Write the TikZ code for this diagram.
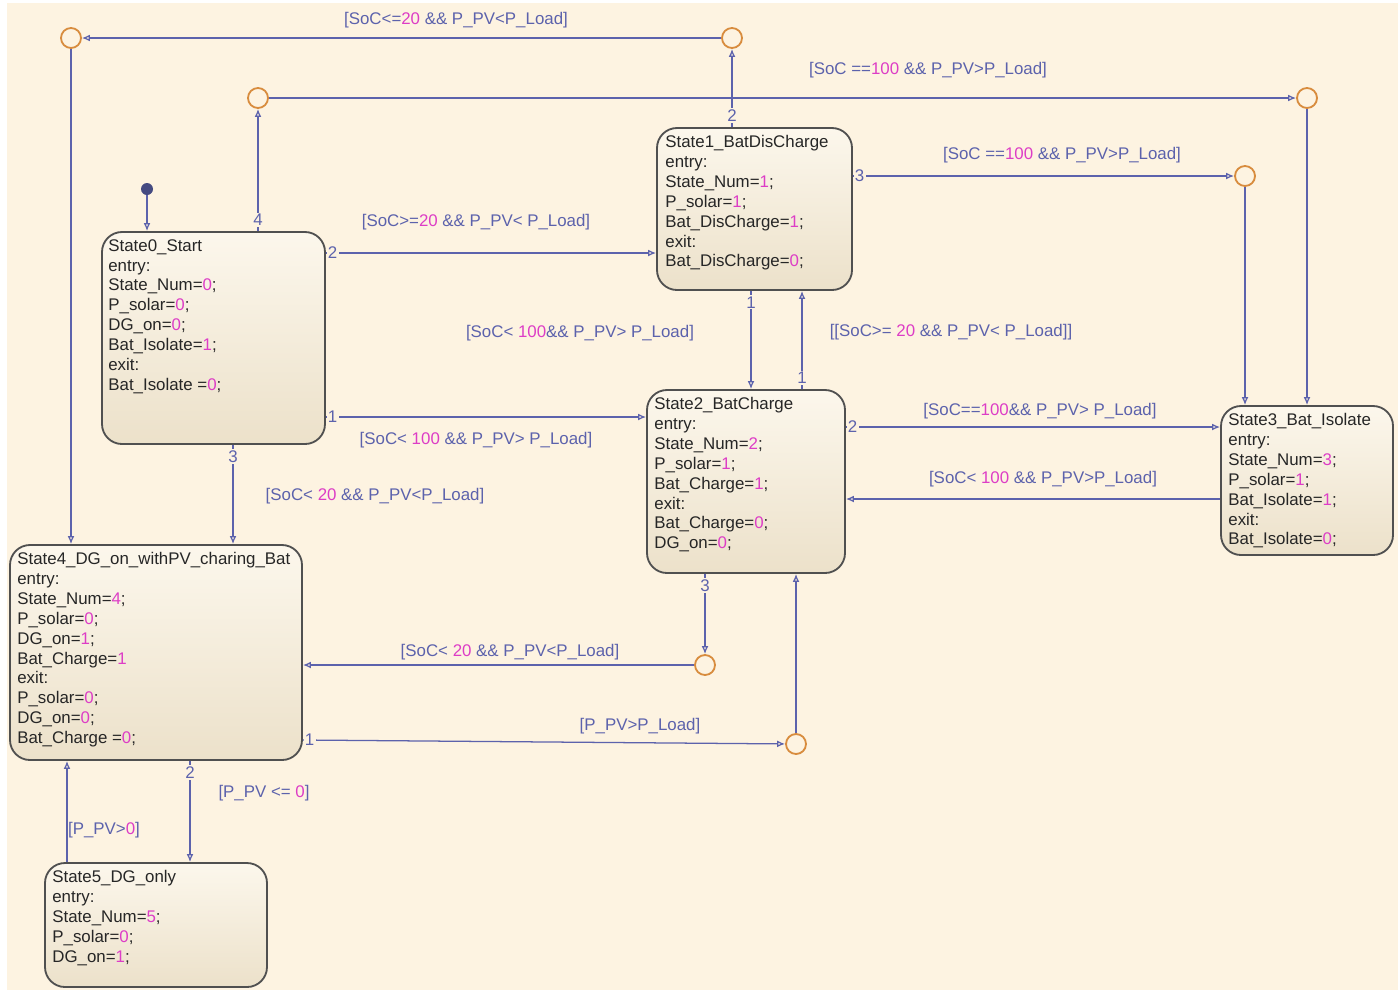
\documentclass[tikz,border=0pt]{standalone}
\usepackage{fontspec}
\setmainfont{Liberation Sans}
\usetikzlibrary{positioning,arrows.meta,fit}
\definecolor{bgc}{HTML}{FDF3E1}
\definecolor{trc}{HTML}{5C62AC}
\definecolor{numc}{HTML}{DD3DC6}
\definecolor{jnc}{HTML}{D88C3E}
\definecolor{stedge}{HTML}{505050}
\definecolor{sttop}{HTML}{FCF7EC}
\definecolor{stbot}{HTML}{ECE1CA}
\newcommand{\numv}[1]{\textcolor{numc}{#1}}
\tikzset{
  >={Latex[open,length=2mm,width=1.7mm]},
  stbox/.style={draw=stedge,line width=1.3pt,rounded corners=5mm,
    top color=sttop,bottom color=stbot,inner sep=0pt},
  sttext/.style={anchor=north west,align=left,inner sep=0pt,
    font=\fontsize{12}{14.15}\selectfont,text=black!85},
  junc/.style={circle,draw=jnc,line width=1.3pt,fill=bgc,minimum size=5mm,
    inner sep=0pt},
  initdot/.style={circle,fill=trc!75!black,minimum size=3mm,inner sep=0pt},
  tr/.style={->,draw=trc,line width=0.9pt},
  trnum/.style={font=\fontsize{12}{14}\selectfont,text=trc,fill=bgc,
    inner sep=1pt},
  trnumup/.style={trnum,anchor=south,yshift=2.5pt},
  trnumdn/.style={trnum,anchor=north,yshift=-2.5pt},
  guard/.style={font=\fontsize{12}{14}\selectfont,text=trc,inner sep=1pt},
}

\begin{document}
\begin{tikzpicture}[x=0.25mm,y=-0.25mm]
  \useasboundingbox (0,0) rectangle (1400,993);
  \fill[white] (0,0) rectangle (1400,993);
  \fill[bgc] (7,3) rectangle (1398,990);

  % states
  \node[stbox,fit={(102,232) (325,444)}] (s0) {};
  \node[stbox,fit={(657,128) (852,290)}] (s1) {};
  \node[stbox,fit={(647,390) (845,573)}] (s2) {};
  \node[stbox,fit={(1221,406) (1393,555)}] (s3) {};
  \node[stbox,fit={(10,545) (302,760)}] (s4) {};
  \node[stbox,fit={(45,863) (267,987)}] (s5) {};

  \node[sttext] (s0t) at ([shift={(7,8)}]s0.north west)
    {State0\_Start\\entry:\\State\_Num=\numv{0};\\P\_solar=\numv{0};\\
     DG\_on=\numv{0};\\Bat\_Isolate=\numv{1};\\exit:\\Bat\_Isolate =\numv{0};};
  \node[sttext] (s1t) at ([shift={(9,8)}]s1.north west)
    {State1\_BatDisCharge\\entry:\\State\_Num=\numv{1};\\P\_solar=\numv{1};\\
     Bat\_DisCharge=\numv{1};\\exit:\\Bat\_DisCharge=\numv{0};};
  \node[sttext] (s2t) at ([shift={(8,8)}]s2.north west)
    {State2\_BatCharge\\entry:\\State\_Num=\numv{2};\\P\_solar=\numv{1};\\
     Bat\_Charge=\numv{1};\\exit:\\Bat\_Charge=\numv{0};\\DG\_on=\numv{0};};
  \node[sttext] (s3t) at ([shift={(8,8)}]s3.north west)
    {State3\_Bat\_Isolate\\entry:\\State\_Num=\numv{3};\\P\_solar=\numv{1};\\
     Bat\_Isolate=\numv{1};\\exit:\\Bat\_Isolate=\numv{0};};
  \node[sttext] (s4t) at ([shift={(8,8)}]s4.north west)
    {State4\_DG\_on\_withPV\_charing\_Bat\\entry:\\State\_Num=\numv{4};\\
     P\_solar=\numv{0};\\DG\_on=\numv{1};\\Bat\_Charge=\numv{1}\\exit:\\
     P\_solar=\numv{0};\\DG\_on=\numv{0};\\Bat\_Charge =\numv{0};};
  \node[sttext] (s5t) at ([shift={(8,8)}]s5.north west)
    {State5\_DG\_only\\entry:\\State\_Num=\numv{5};\\P\_solar=\numv{0};\\
     DG\_on=\numv{1};};

  % junctions and default transition
  \node[junc] (j1) at (71,38) {};
  \node[junc] (j2) at (732,38) {};
  \node[junc] (j3) at (258,98) {};
  \node[junc] (j4) at (1307,98) {};
  \node[junc] (j5) at (1245,176) {};
  \node[junc] (j6) at (705,665) {};
  \node[junc] (j7) at (796,744) {};
  \node[initdot] (init) at (147,189) {};

  % transitions
  \draw[tr] (init) -- (init |- s0.north);
  \draw[tr] (s0.north -| j3) node[trnumup] (n04) {4} -- (j3);
  \draw[tr] (j3) -- (j4);
  \draw[tr] (j4) -- (j4 |- s3.north);
  \draw[tr] (s1.north -| j2) node[trnumup] (n12) {2} -- (j2);
  \draw[tr] (j2) -- (j1);
  \draw[tr] (j1) -- (j1 |- s4.north);
  \draw[tr] (s0.east |- 0,253) node[trnum,anchor=west] (n02) {2}
    -- (s1.west |- 0,253);
  \draw[tr] (s0.east |- 0,417) node[trnum,anchor=west] (n01) {1}
    -- (s2.west |- 0,417);
  \draw[tr] (s1.south -| 751,0) node[trnumdn] (n11) {1}
    -- (s2.north -| 751,0);
  \draw[tr] (s2.north -| 802,0) node[trnumup] (n21) {1}
    -- (s1.south -| 802,0);
  \draw[tr] (s1.east |- j5) node[trnum,anchor=west] (n13) {3} -- (j5);
  \draw[tr] (j5) -- (j5 |- s3.north);
  \draw[tr] (s2.east |- 0,427) node[trnum,anchor=west] (n22) {2}
    -- (s3.west |- 0,427);
  \draw[tr] (s3.west |- 0,499) -- (s2.east |- 0,499);
  \draw[tr] (s0.south -| 233,0) node[trnumdn] (n03) {3}
    -- (s4.north -| 233,0);
  \draw[tr] (s2.south -| j6) node[trnumdn] (n23) {3} -- (j6);
  \draw[tr] (j6) -- (j6 -| s4.east);
  \draw[tr] (s4.east |- 0,740) node[trnum,anchor=west] (n41) {1} -- (j7);
  \draw[tr] (j7) -- (j7 |- s2.south);
  \draw[tr] (s4.south -| 190,0) node[trnumdn] (n42) {2}
    -- (s5.north -| 190,0);
  \draw[tr] (s5.north -| 67,0) -- (s4.south -| 67,0);

  % guards
  \node[guard] (g1) at (456,20) {[SoC<=\numv{20} \&\& P\_PV<P\_Load]};
  \node[guard] (g2) at (928,70) {[SoC ==\numv{100} \&\& P\_PV>P\_Load]};
  \node[guard] (g3) at (1062,155) {[SoC ==\numv{100} \&\& P\_PV>P\_Load]};
  \node[guard] (g4) at (476,222) {[SoC>=\numv{20} \&\& P\_PV< P\_Load]};
  \node[guard] (g5) at (580,333) {[SoC< \numv{100}\&\& P\_PV> P\_Load]};
  \node[guard] (g6) at (951,332) {[[SoC>= \numv{20} \&\& P\_PV< P\_Load]]};
  \node[guard] (g7) at (1040,411) {[SoC==\numv{100}\&\& P\_PV> P\_Load]};
  \node[guard] (g8) at (476,440) {[SoC< \numv{100} \&\& P\_PV> P\_Load]};
  \node[guard] (g9) at (1043,479) {[SoC< \numv{100} \&\& P\_PV>P\_Load]};
  \node[guard] (g10) at (375,496) {[SoC< \numv{20} \&\& P\_PV<P\_Load]};
  \node[guard] (g11) at (510,652) {[SoC< \numv{20} \&\& P\_PV<P\_Load]};
  \node[guard] (g12) at (640,726) {[P\_PV>P\_Load]};
  \node[guard] (g13) at (264,793) {[P\_PV <= \numv{0}]};
  \node[guard] (g14) at (104,830) {[P\_PV>\numv{0}]};
\end{tikzpicture}
\end{document}
